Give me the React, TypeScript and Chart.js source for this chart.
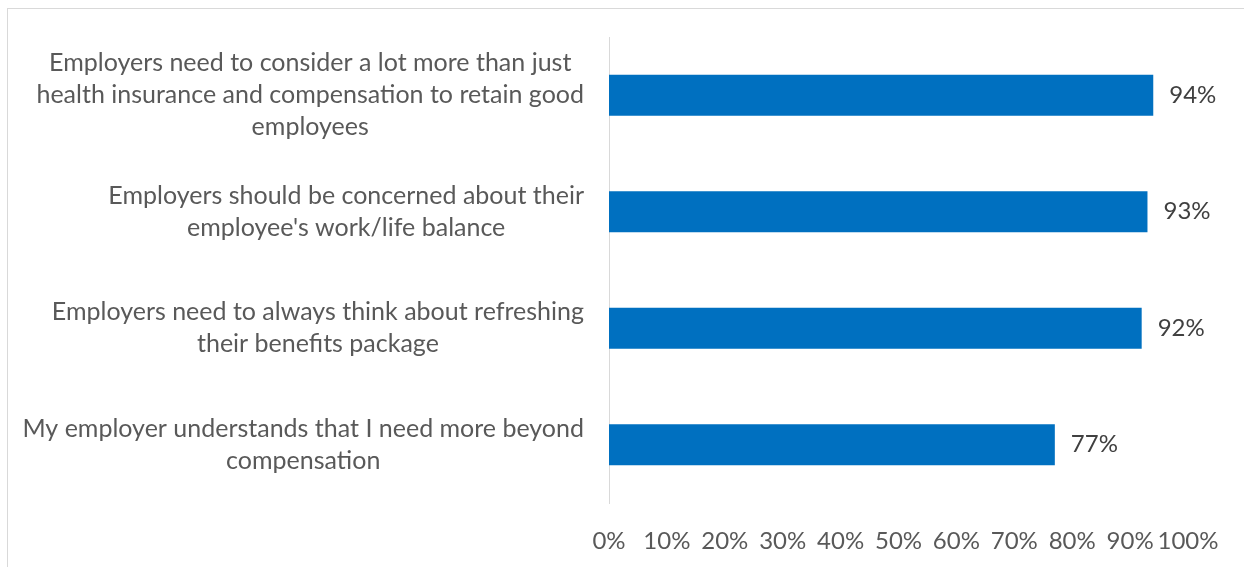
import React, { useEffect, useRef } from "react";
import { Chart, registerables } from "chart.js";

Chart.register(...registerables);

// ---- Data ----
const categories: string[][] = [
  ["Employers need to consider a lot more than just", "health insurance and compensation to retain good", "employees"],
  ["Employers should be concerned about their", "employee's work/life balance"],
  ["Employers need to always think about refreshing", "their benefits package"],
  ["My employer understands that I need more beyond", "compensation"],
];
const values: number[] = [94, 93, 92, 77];
const xTickValues: number[] = [0, 10, 20, 30, 40, 50, 60, 70, 80, 90, 100];

// ---- Styles ----
const FONT = "Lato, 'Open Sans', sans-serif";
const FONT_SIZE = 24;
const CAT_FONT_SIZE = 25;
const LINE_H = 32;
const TICK_COLOR = "#595959";
const DATA_LABEL_COLOR = "#404040";
const BAR_COLOR = "#0070C0";
const AXIS_COLOR = "#D9D9D9";

const categoryLabelsPlugin = {
  id: "categoryLabels",
  afterDraw(chart: any) {
    const ctx = chart.ctx;
    const yScale = chart.scales.y;
    ctx.save();
    ctx.font = `${CAT_FONT_SIZE}px ${FONT}`;
    ctx.fillStyle = TICK_COLOR;
    ctx.textAlign = "center";
    ctx.textBaseline = "middle";
    const right = chart.chartArea.left - 25;
    categories.forEach((lines, i) => {
      const cy = yScale.getPixelForValue(i);
      const widest = Math.max(...lines.map((l) => ctx.measureText(l).width));
      const cx = right - widest / 2;
      const n = lines.length;
      lines.forEach((line, j) => {
        ctx.fillText(line, cx, cy + (j - (n - 1) / 2) * LINE_H);
      });
    });
    ctx.restore();
  },
};

const dataLabelsPlugin = {
  id: "dataLabels",
  afterDatasetsDraw(chart: any) {
    const ctx = chart.ctx;
    const meta = chart.getDatasetMeta(0);
    ctx.save();
    ctx.font = `${FONT_SIZE}px ${FONT}`;
    ctx.fillStyle = DATA_LABEL_COLOR;
    ctx.textAlign = "left";
    ctx.textBaseline = "middle";
    meta.data.forEach((el: any, i: number) => {
      ctx.fillText(`${values[i]}%`, el.x + 16, el.y);
    });
    ctx.restore();
  },
};

export default function App() {
  const canvasRef = useRef<HTMLCanvasElement | null>(null);

  useEffect(() => {
    document.body.style.margin = "0";
    const canvas = canvasRef.current;
    if (!canvas) return;
    const chart = new Chart(canvas, {
      type: "bar",
      data: {
        labels: categories.map((c) => c.join(" ")),
        datasets: [
          {
            data: values,
            backgroundColor: BAR_COLOR,
            borderWidth: 0,
            categoryPercentage: 1,
            barPercentage: 0.352,
          },
        ],
      },
      options: {
        indexAxis: "y",
        animation: false,
        responsive: true,
        maintainAspectRatio: false,
        layout: { padding: { top: 28, right: 56, bottom: 0, left: 0 } },
        plugins: {
          legend: { display: false },
          tooltip: { enabled: false },
          title: { display: false },
        },
        scales: {
          x: {
            type: "linear",
            position: "bottom",
            min: 0,
            max: 100,
            afterBuildTicks: (scale: any) => {
              scale.ticks = xTickValues.map((v) => ({ value: v }));
            },
            afterFit: (scale: any) => {
              scale.height = 64;
            },
            ticks: {
              autoSkip: false,
              maxRotation: 0,
              minRotation: 0,
              padding: 24,
              color: TICK_COLOR,
              font: { family: FONT, size: FONT_SIZE },
              callback: (v: any) => `${v}%`,
            },
            grid: { display: false, drawTicks: false },
            border: { display: false },
          },
          y: {
            type: "category",
            position: "left",
            afterFit: (scale: any) => {
              scale.width = 601;
            },
            ticks: { display: false },
            grid: { display: false, drawTicks: false },
            border: { display: true, color: AXIS_COLOR, width: 1 },
          },
        },
      },
      plugins: [categoryLabelsPlugin, dataLabelsPlugin],
    } as any);
    return () => chart.destroy();
  }, []);

  return (
    <div
      style={{
        margin: "8px 0 0 7px",
        width: 1237,
        height: 559,
        boxSizing: "border-box",
        borderTop: "1px solid #D9D9D9",
        borderLeft: "1px solid #D9D9D9",
        background: "#fff",
      }}
    >
      <div style={{ position: "relative", width: 1236, height: 558 }}>
        <canvas ref={canvasRef} />
      </div>
    </div>
  );
}
